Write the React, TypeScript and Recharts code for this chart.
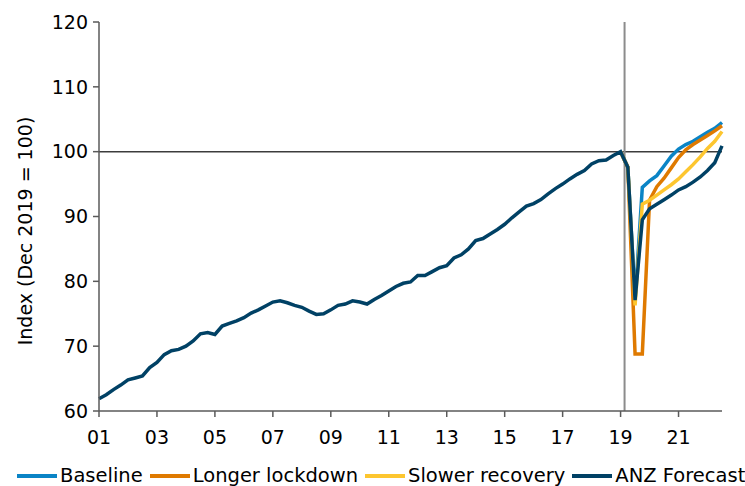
import React from "react";
import { LineChart, Line, XAxis, YAxis, ReferenceLine, Label } from "recharts";

const FONT = "'DejaVu Sans', Verdana, sans-serif";

// quarterly actuals, Dec 2001 .. Dec 2019 (Dec 2019 = 100)
const history = [
  61.9, 62.5, 63.3, 64.0, 64.8, 65.1, 65.4, 66.7, 67.5, 68.7,
  69.3, 69.5, 70.0, 70.8, 71.9, 72.1, 71.8, 73.1, 73.5, 73.9,
  74.4, 75.1, 75.6, 76.2, 76.8, 77.0, 76.7, 76.3, 76.0, 75.4,
  74.9, 75.0, 75.6, 76.3, 76.5, 77.0, 76.8, 76.5, 77.2, 77.8,
  78.5, 79.2, 79.7, 79.9, 80.9, 80.9, 81.5, 82.1, 82.4, 83.6,
  84.1, 85.0, 86.3, 86.6, 87.3, 88.0, 88.8, 89.8, 90.7, 91.6,
  92.0, 92.6, 93.5, 94.3, 95.0, 95.8, 96.5, 97.1, 98.1, 98.6,
  98.7, 99.4, 100.0,
];

// scenarios, Mar 2020 .. Jun 2023
const baseline = [97.6, 77.1, 94.5, 95.5, 96.3, 97.8, 99.3, 100.4, 101.1, 101.6, 102.3, 103.0, 103.6, 104.5];
const longerLockdown = [97.6, 68.8, 68.8, 92.5, 94.6, 95.9, 97.5, 99.1, 100.3, 101.1, 101.8, 102.5, 103.2, 104.0];
const slowerRecovery = [97.6, 76.3, 91.9, 92.5, 93.3, 94.1, 94.9, 95.8, 96.9, 98.0, 99.2, 100.5, 101.6, 103.1];
const anzForecast = [97.6, 77.1, 89.5, 91.2, 91.9, 92.6, 93.3, 94.1, 94.6, 95.3, 96.1, 97.1, 98.3, 100.9];

const xTicks = [0, 8, 16, 24, 32, 40, 48, 56, 64, 72, 80];
const xTickLabels = ["01", "03", "05", "07", "09", "11", "13", "15", "17", "19", "21"];
const yTicks = [60, 70, 80, 90, 100, 110, 120];
const forecastStart = 72.55;

const series = [
  { key: "baseline", name: "Baseline", color: "#0a84c6", values: baseline },
  { key: "longer", name: "Longer lockdown", color: "#df7a00", values: longerLockdown },
  { key: "slower", name: "Slower recovery", color: "#fdc62f", values: slowerRecovery },
  { key: "anz", name: "ANZ Forecast", color: "#004165", values: anzForecast },
];

const last = history.length - 1;
const data = Array.from({ length: history.length + anzForecast.length }, (_, i) => {
  const row: Record<string, number | null> = { i };
  series.forEach((s) => {
    if (i > last) row[s.key] = s.values[i - last - 1];
    else if (i === last || s.key === "anz") row[s.key] = history[i];
    else row[s.key] = null;
  });
  return row;
});

const tickStyle = { fontSize: 19, fill: "#000", fontFamily: FONT };

export default function App() {
  return (
    <div style={{ position: "absolute", left: 0, top: 0, width: 745, height: 486, background: "#fff", overflow: "hidden" }}>
      <LineChart width={745} height={486} data={data} margin={{ top: 22, right: 23, left: 0, bottom: 35 }}>
        <XAxis
          dataKey="i"
          type="number"
          domain={[0, 86]}
          ticks={xTicks}
          tickFormatter={(v: number) => xTickLabels[xTicks.indexOf(v)] ?? ""}
          tick={tickStyle}
          tickSize={6}
          tickMargin={14}
          height={40}
          stroke="#5a5a5a"
          strokeWidth={1.5}
        />
        <YAxis
          type="number"
          domain={[60, 120]}
          ticks={yTicks}
          tick={tickStyle}
          tickSize={6}
          tickMargin={5}
          width={99}
          stroke="#5a5a5a"
          strokeWidth={1.5}
          interval={0}
        >
          <Label
            position="center"
            content={() => (
              <text
                x={25}
                y={231}
                transform="rotate(-90, 25, 231)"
                textAnchor="middle"
                dominantBaseline="central"
                style={{ fontSize: 19, fontFamily: FONT, fill: "#000" }}
              >
                Index (Dec 2019 = 100)
              </text>
            )}
          />
        </YAxis>
        <ReferenceLine y={100} stroke="#3c3c3c" strokeWidth={1.5} />
        <ReferenceLine x={forecastStart} stroke="#8c8c8c" strokeWidth={2} />
        {series.map((s) => (
          <Line
            key={s.key}
            dataKey={s.key}
            name={s.name}
            stroke={s.color}
            strokeWidth={3.5}
            dot={false}
            connectNulls={false}
            isAnimationActive={false}
          />
        ))}
      </LineChart>
      <div
        style={{
          position: "absolute",
          left: 17,
          top: 464,
          display: "flex",
          alignItems: "center",
          fontFamily: FONT,
          fontSize: 19.5,
          color: "#000",
          whiteSpace: "nowrap",
        }}
      >
        {series.map((s) => (
          <div key={s.key} style={{ display: "flex", alignItems: "center", marginRight: 7 }}>
            <span style={{ display: "inline-block", width: 40, height: 4, background: s.color, marginRight: 3 }} />
            <span>{s.name}</span>
          </div>
        ))}
      </div>
    </div>
  );
}
